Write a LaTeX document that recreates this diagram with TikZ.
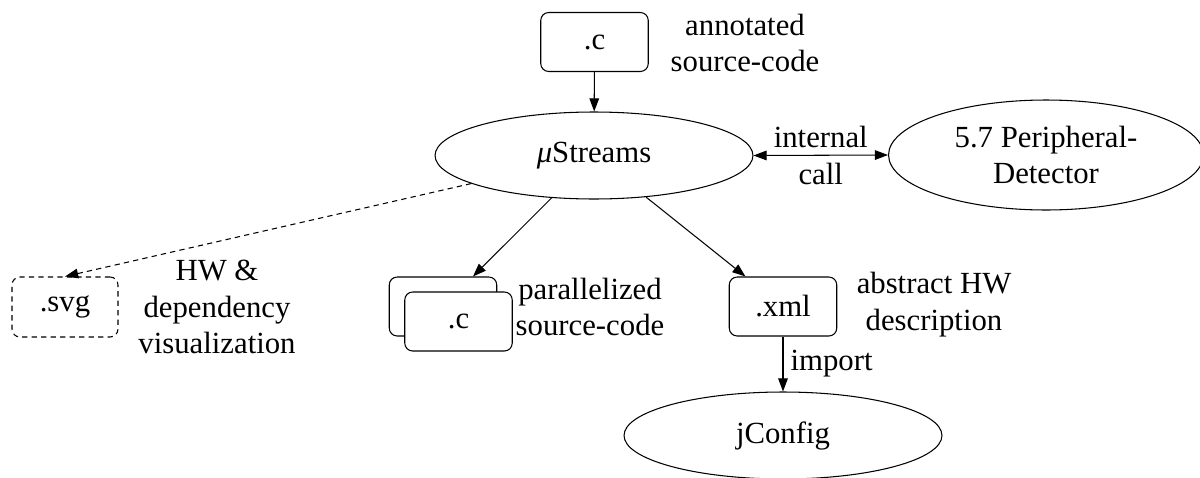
\documentclass[tikz,border=0pt]{standalone}
\usepackage{fontspec}
\setmainfont{Liberation Serif}
\usetikzlibrary{arrows.meta,shapes.geometric}

\tikzset{
  txt/.style={font=\fontsize{17.5}{21}\selectfont, inner sep=0pt, align=center},
  filebox/.style={draw, rounded corners=4.5pt, minimum width=2.15cm, minimum height=1.18cm,
                  inner sep=0pt, font=\fontsize{17.5}{21}\selectfont, line width=0.6pt, fill=white},
  tool/.style={draw, ellipse, inner sep=0pt, align=center, line width=0.6pt,
               font=\fontsize{17.5}{21}\selectfont},
  tip/.style={Triangle[length=7.5pt,width=5.5pt]},
  flow/.style={line width=0.6pt, -{Triangle[length=7.5pt,width=5.5pt]}},
}

\begin{document}
\begin{tikzpicture}[x=0.02cm, y=-0.02cm]
  \useasboundingbox (0,0) rectangle (1200,477);
  \begin{scope}
    \clip (0,0) rectangle (1200,477);

    % input file
    \node[filebox] (src) at (594.5,42) {.c};
    \node[txt] (srcl) at (745,43) {annotated\\source-code};

    % main tool
    \node[tool, minimum width=6.36cm, minimum height=1.74cm] (mu) at (594,155.5) {\textit{μ}Streams};

    % detector
    \node[tool, minimum width=6.3cm, minimum height=2.2cm] (per) at (1046,155) {5.7 Peripheral-\\Detector};

    % visualisation output
    \node[filebox, dashed, dash pattern=on 3pt off 2.4pt, minimum width=2.12cm, minimum height=1.2cm] (svg) at (65,307) {.svg};
    \node[txt] (svgl) at (217,307) {HW \&\\dependency\\visualization};

    % parallelized sources (stacked)
    \node[filebox] (pback) at (443,306.5) {};
    \node[filebox] (pfront) at (458.5,321.5) {.c};
    \node[txt] (pl) at (590,307) {parallelized\\source-code};

    % hardware description
    \node[filebox] (xml) at (783,306.5) {.xml};
    \node[txt] (xmll) at (934,305) {abstract HW\\description};

    % configurator
    \node[tool, minimum width=6.36cm, minimum height=1.74cm] (jc) at (783,435.5) {jConfig};

    % connectors
    \draw[flow] (src) -- (mu);
    \draw[line width=0.6pt, {Triangle[length=7.5pt,width=5.5pt]}-{Triangle[length=7.5pt,width=5.5pt]}]
      (mu.east) -- (per.west)
      node[midway, txt] (calll) {internal\\call};
    \draw[flow, dashed, dash pattern=on 3pt off 2.4pt] (mu) -- (svg.north);
    \draw[flow] (mu) -- (pback);
    \draw[flow] (mu) -- (xml);
    \draw[flow] (xml) -- (jc.north)
      node[midway, right, txt, xshift=4pt] (imp) {import};
  \end{scope}
\end{tikzpicture}
\end{document}
